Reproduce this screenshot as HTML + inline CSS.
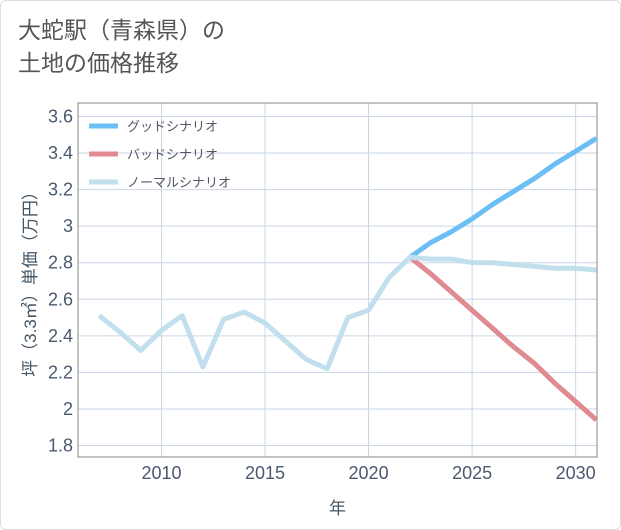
<!DOCTYPE html>
<html><head><meta charset="utf-8"><style>
body{margin:0;background:#fff;font-family:"Liberation Sans","Noto Sans CJK JP",sans-serif;}
#card{position:absolute;left:0;top:0;width:619px;height:528px;border:1px solid #ddd;border-radius:6px;background:#fff;}
#title{position:absolute;left:18px;top:14px;font-size:23px;line-height:33px;color:#555;}
svg{position:absolute;left:0;top:0;}
</style></head><body>
<div id="card"></div>
<div id="title">大蛇駅（青森県）の<br>土地の価格推移</div>
<svg id="chart" width="621" height="530"></svg>
<script>
const years=[2007,2008,2009,2010,2011,2012,2013,2014,2015,2016,2017,2018,2019,2020,2021,2022,2023,2024,2025,2026,2027,2028,2029,2030,2031];
const normal=[2.51,2.42,2.32,2.43,2.51,2.23,2.49,2.53,2.47,2.37,2.27,2.22,2.50,2.54,2.72,2.83,2.82,2.82,2.80,2.80,2.79,2.78,2.77,2.77,2.76];
const futYears=[2022,2023,2024,2025,2026,2027,2028,2029,2030,2031];
const good=[2.83,2.91,2.97,3.04,3.12,3.19,3.26,3.34,3.41,3.48];
const bad=[2.83,2.74,2.64,2.54,2.44,2.34,2.25,2.14,2.04,1.94];
const yTicks=[1.8,2,2.2,2.4,2.6,2.8,3,3.2,3.4,3.6];
const yLabels=["1.8","2","2.2","2.4","2.6","2.8","3","3.2","3.4","3.6"];
const xTicks=[2010,2015,2020,2025,2030];
const L=78,R=597,T=103,B=457;
const x=v=>L+(v-2005.97)/(2031.03-2005.97)*(R-L);
const y=v=>445.5-(v-1.8)/1.8*329;
const svg=document.getElementById('chart');
const NS='http://www.w3.org/2000/svg';
function mk(t,a){const e=document.createElementNS(NS,t);for(const k in a)e.setAttribute(k,a[k]);svg.appendChild(e);return e;}
yTicks.forEach((v,i)=>{
 const g=mk('line',{x1:L,x2:R,y1:y(v),y2:y(v),stroke:'#c9d6e6','stroke-width':1});
 
 
 const t=mk('text',{x:L-5,y:y(v)+6,'text-anchor':'end','font-size':18,fill:'#4a5a6e'});
 t.textContent=yLabels[i];
 
 
});
xTicks.forEach(v=>{
 const g=mk('line',{x1:x(v),x2:x(v),y1:T,y2:B,stroke:'#c9d6e6','stroke-width':1});
 
 
 const t=mk('text',{x:x(v),y:479,'text-anchor':'middle','font-size':18,fill:'#4a5a6e'});
 t.textContent=String(v);
 
 
});
const fr=mk('rect',{x:L,y:T,width:R-L,height:B-T,fill:'none',stroke:'#888','stroke-width':1});


function line(xs,vs,c,n){const p=mk('polyline',{points:xs.map((v,i)=>x(v)+','+y(vs[i])).join(' '),fill:'none',stroke:c,'stroke-width':5,'stroke-linejoin':'round'});
 
 }
line(futYears,bad,'#df8b91','bad-scenario-line');
line(futYears,good,'#6cbff5','good-scenario-line');
line(years,normal,'#c1dfec','normal-scenario-line');
const leg=[['グッドシナリオ','#6cbff5'],['バッドシナリオ','#df8b91'],['ノーマルシナリオ','#c1dfec']];
leg.forEach((l,i)=>{const yy=126+i*28;
 const s=mk('line',{x1:89,x2:118,y1:yy,y2:yy,stroke:l[1],'stroke-width':5});
 
 
 const t=mk('text',{x:127,y:yy+5,'font-size':13,fill:'#556'});t.textContent=l[0];
 
 });
const xt=mk('text',{x:x(2018.5),y:514,'text-anchor':'middle','font-size':17,fill:'#445566'});xt.textContent='年';


const yt=mk('text',{x:0,y:0,'text-anchor':'middle','font-size':17,fill:'#445566',transform:'translate(36,'+((T+B)/2)+') rotate(-90)'});yt.textContent='坪（3.3㎡）単価（万円）';


</script>
</body></html>
